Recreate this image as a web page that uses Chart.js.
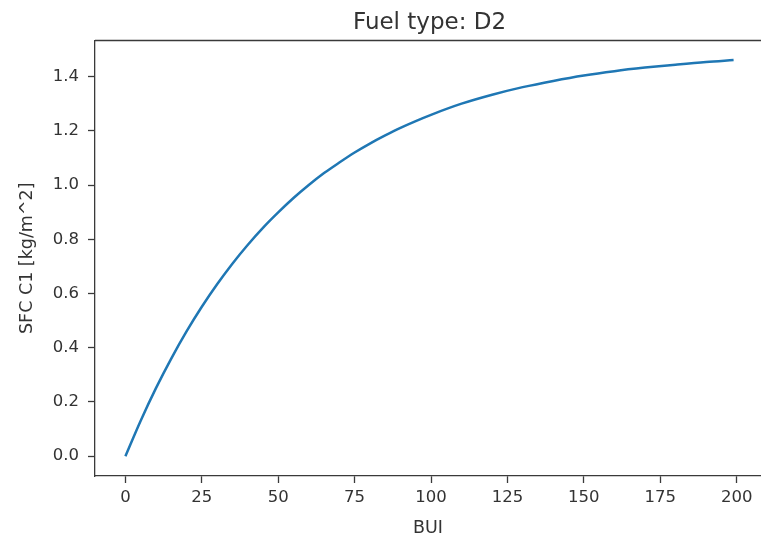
<!DOCTYPE html>
<html lang="en">
  <head>
    <meta charset="UTF-8" />
    <script src="https://cdn.jsdelivr.net/npm/chart.js@4.4.0/dist/chart.umd.min.js"></script>
    <title>Fuel type: D2</title>
    <style>
      html, body { margin: 0; padding: 0; overflow: hidden; background: #fff; }
    </style>
  </head>
  <body>
    <canvas id="myChart" width="761" height="543"></canvas>
    <script>
      // values
      const bui = [0, 5, 10, 15, 20, 25, 30, 35, 40, 45, 50, 55, 60, 65, 70, 75, 80, 85, 90, 95,
                   100, 110, 120, 130, 140, 150, 160, 170, 180, 190, 199];
      const sfc = [0, 0.131, 0.251, 0.360, 0.460, 0.551, 0.634, 0.710, 0.779, 0.842, 0.899, 0.952,
                   1.000, 1.044, 1.083, 1.120, 1.153, 1.183, 1.211, 1.236,
                   1.259, 1.300, 1.333, 1.361, 1.384, 1.404, 1.420, 1.433, 1.444, 1.454, 1.461];
      const xTicks = [0, 25, 50, 75, 100, 125, 150, 175, 200];
      const yTicks = [0, 0.2, 0.4, 0.6, 0.8, 1.0, 1.2, 1.4];
      const titleText = "Fuel type: D2";

      const ink = "#333";
      const spine = "#3a3a3a";
      const font = { family: "DejaVu Sans", size: 16.5 };
      const labelFont = { family: "DejaVu Sans", size: 17.5 };

      // the reference is cropped on the right: axes run past the picture edge
      const axisRightPx = 764;

      // top spine + title centred over the full (cropped) axes, like matplotlib
      const boxPlugin = {
        id: "box",
        afterDraw(chart) {
          const a = chart.chartArea;
          const ctx = chart.ctx;
          ctx.save();
          ctx.strokeStyle = spine;
          ctx.lineWidth = 1.3;
          ctx.beginPath();
          ctx.moveTo(a.left, a.top);
          ctx.lineTo(chart.width, a.top);
          ctx.stroke();
          ctx.fillStyle = ink;
          ctx.font = "23px 'DejaVu Sans'";
          ctx.textAlign = "center";
          ctx.textBaseline = "alphabetic";
          ctx.fillText(titleText, (a.left + axisRightPx) / 2, 29);
          ctx.restore();
        },
      };

      const ctx = document.getElementById("myChart").getContext("2d");
      new Chart(ctx, {
        type: "line",
        data: {
          datasets: [
            {
              data: bui.map((x, i) => ({ x: x, y: sfc[i] })),
              borderColor: "#1f77b4",
              borderWidth: 2.5,
              pointRadius: 0,
              cubicInterpolationMode: "monotone",
              fill: false,
            },
          ],
        },
        plugins: [boxPlugin],
        options: {
          responsive: false,
          animation: false,
          layout: { padding: { left: 0, right: 0, top: 40.5, bottom: 0 } },
          plugins: {
            legend: { display: false },
            tooltip: { enabled: false },
            title: { display: false },
          },
          scales: {
            x: {
              type: "linear",
              min: -9.95,
              max: 207.97,
              afterBuildTicks: (s) => { s.ticks = xTicks.map((v) => ({ value: v })); },
              afterFit: (s) => { s.height = 67; },
              grid: { drawOnChartArea: false, drawTicks: true, tickLength: 7, tickColor: spine, tickWidth: 1.3 },
              border: { display: true, color: spine, width: 1.3 },
              ticks: { color: ink, font: font, padding: 5, maxRotation: 0 },
              title: { display: true, text: "BUI", color: ink, font: labelFont, padding: { top: 0, bottom: 4 } },
            },
            y: {
              type: "linear",
              min: -0.073,
              max: 1.533,
              afterBuildTicks: (s) => { s.ticks = yTicks.map((v) => ({ value: v })); },
              afterFit: (s) => { s.width = 95; },
              grid: { drawOnChartArea: false, drawTicks: true, tickLength: 7, tickColor: spine, tickWidth: 1.3 },
              border: { display: true, color: spine, width: 1.3 },
              ticks: { color: ink, font: font, padding: 9, callback: (v) => v.toFixed(1) },
              title: { display: true, text: "SFC C1 [kg/m^2]", color: ink, font: labelFont, padding: { top: 17, bottom: 0 } },
            },
          },
        },
      });
    </script>
  </body>
</html>
